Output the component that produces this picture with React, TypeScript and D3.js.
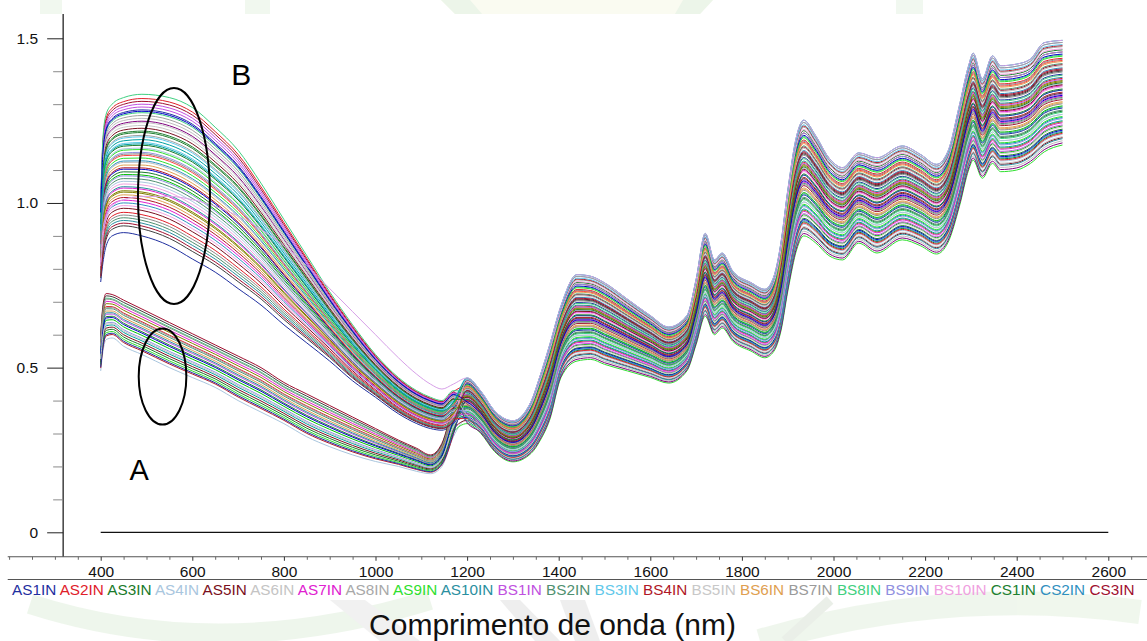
import React, { useEffect, useRef } from "react";
import * as d3 from "d3";

const W = 1147;
const H = 641;
const FONT = "'Liberation Sans', Arial, Helvetica, sans-serif";

// ---- Visible / short-NIR part (nm) : envelopes ----
const VIS_WL = [400, 405, 412, 425, 450, 490, 550, 600, 650, 700, 750, 800, 850, 900, 950, 1000, 1050, 1090, 1120, 1145, 1170];
const B_VIS_UPPER = [1.0, 1.2, 1.27, 1.3, 1.32, 1.33, 1.32, 1.29, 1.23, 1.16, 1.06, 0.95, 0.84, 0.73, 0.63, 0.54, 0.47, 0.43, 0.41, 0.4, 0.43];
const B_VIS_LOWER = [0.76, 0.82, 0.87, 0.9, 0.91, 0.9, 0.87, 0.83, 0.79, 0.74, 0.69, 0.63, 0.575, 0.52, 0.46, 0.41, 0.36, 0.33, 0.315, 0.31, 0.33];
const A_VIS_UPPER = [0.6, 0.69, 0.725, 0.722, 0.705, 0.678, 0.637, 0.603, 0.569, 0.535, 0.5, 0.455, 0.42, 0.385, 0.35, 0.315, 0.28, 0.255, 0.235, 0.27, 0.38];
const A_VIS_LOWER = [0.49, 0.55, 0.585, 0.59, 0.565, 0.54, 0.5, 0.47, 0.44, 0.4, 0.365, 0.33, 0.29, 0.26, 0.235, 0.215, 0.2, 0.185, 0.178, 0.2, 0.29];
const LAVENDER_VIS = [0.82, 0.92, 0.96, 0.99, 1.01, 1.02, 1.02, 1.01, 0.99, 0.96, 0.92, 0.87, 0.81, 0.74, 0.67, 0.6, 0.53, 0.48, 0.45, 0.435, 0.45];

// ---- NIR part (nm) : shared band envelope ----
const NIR_WL = [1200, 1230, 1260, 1300, 1340, 1360, 1380, 1405, 1440, 1470, 1500, 1550, 1600, 1640, 1680, 1700, 1720, 1740, 1757, 1780, 1820, 1850, 1870, 1885, 1900, 1920, 1935, 1960, 1990, 2020, 2055, 2095, 2150, 2190, 2225, 2250, 2275, 2295, 2305, 2325, 2347, 2365, 2400, 2430, 2460, 2500];
const NIR_UPPER = [0.47, 0.43, 0.37, 0.34, 0.4, 0.48, 0.57, 0.69, 0.785, 0.78, 0.76, 0.71, 0.66, 0.625, 0.66, 0.77, 0.91, 0.83, 0.85, 0.795, 0.76, 0.74, 0.78, 0.88, 1.04, 1.21, 1.255, 1.21, 1.14, 1.11, 1.155, 1.14, 1.176, 1.15, 1.12, 1.16, 1.3, 1.42, 1.458, 1.38, 1.45, 1.42, 1.425, 1.44, 1.49, 1.497];
const NIR_LOWER = [0.33, 0.3, 0.245, 0.214, 0.24, 0.28, 0.34, 0.47, 0.52, 0.525, 0.51, 0.49, 0.47, 0.453, 0.49, 0.57, 0.656, 0.6, 0.62, 0.58, 0.55, 0.53, 0.55, 0.61, 0.73, 0.86, 0.9, 0.88, 0.84, 0.827, 0.878, 0.848, 0.888, 0.87, 0.845, 0.88, 0.99, 1.1, 1.13, 1.075, 1.12, 1.095, 1.1, 1.12, 1.155, 1.176];

// ---- per-spectrum level inside its band (0 = lower edge, 1 = upper edge) ----
const B_VIS_POS = [0.0, 0.97, 0.45, 0.62, 0.18, 0.83, 0.33, 0.71, 0.55, 0.09, 0.91, 0.4, 0.66, 0.26, 0.78, 0.5, 0.13, 0.87, 0.59, 0.36, 0.74, 0.22, 0.95, 0.47, 0.68, 0.3, 0.81, 0.05, 0.57, 0.43, 0.89, 0.15, 0.64, 0.38, 0.76, 0.52, 0.24, 0.85, 0.61, 0.34, 0.93, 0.11, 0.7, 0.48, 0.8, 0.28, 0.58, 1.0, 0.42, 0.2, 0.73, 0.53, 0.07, 0.88, 0.65, 0.31];
const B_NIR_POS = [0.35, 0.82, 0.12, 0.58, 0.71, 0.04, 0.46, 0.93, 0.27, 0.64, 0.19, 0.77, 0.52, 0.88, 0.08, 0.4, 0.69, 0.31, 0.97, 0.55, 0.15, 0.73, 0.43, 0.86, 0.23, 0.61, 0.02, 0.49, 0.8, 0.37, 0.67, 0.11, 0.9, 0.29, 0.57, 0.75, 0.21, 0.44, 0.84, 0.06, 0.62, 0.33, 0.95, 0.5, 0.17, 0.79, 0.39, 0.66, 0.25, 0.91, 0.53, 0.13, 0.72, 0.47, 0.99, 0.6];
const A_VIS_POS = [0.0, 0.55, 0.9, 0.3, 0.72, 0.15, 0.62, 1.0, 0.42, 0.83, 0.08, 0.5, 0.95, 0.25, 0.67, 0.36, 0.78, 0.2, 0.58, 0.88, 0.47, 0.11, 0.7, 0.33];
const A_NIR_POS = [0.1, 0.48, 0.85, 0.26, 0.63, 0.0, 0.41, 0.76, 0.18, 0.56, 0.94, 0.32, 0.7, 0.07, 0.45, 0.88, 0.22, 0.59, 0.36, 0.81, 0.14, 0.52, 0.97, 0.29];
const LAVENDER_NIR_POS = 0.99;

const PALETTE = ["#1f2f9f", "#e0202a", "#1a7a2a", "#a9c6de", "#7a1020", "#bdbdbd", "#e020d0", "#a0a0a0", "#2fe02f", "#2a8fa0", "#c050e0", "#4f9070", "#5fc8ea", "#b01828", "#c8c8c8", "#e0a050", "#8c8c8c", "#3fd080", "#9090e0", "#f0a0e0", "#208030", "#3090c0", "#a01030", "#0000c8", "#00a0a0", "#808000", "#800080", "#404040", "#ff4040", "#00c000"];

// ---- axes / annotations ----
const X_TICKS = [400, 600, 800, 1000, 1200, 1400, 1600, 1800, 2000, 2200, 2400, 2600];
const Y_TICKS = [0, 0.5, 1.0, 1.5];
const Y_MINOR = [0.1, 0.2, 0.3, 0.4, 0.6, 0.7, 0.8, 0.9, 1.1, 1.2, 1.3, 1.4];
const ZERO_LINE: [number, number][] = [[400, 0], [2600, 0]];
const FRAME = { yAxisNm: 318, xAxisValue: -0.0743, yTop: 1.574, xLeftNm: 197, xRightNm: 2700 };
const ANNOTATIONS = [
  { label: "B", cx: 560, cy: 1.021, rx: 78.6, ry: 0.328, lx: 707, ly: 1.358, size: 30 },
  { label: "A", cx: 535, cy: 0.473, rx: 52, ry: 0.146, lx: 484, ly: 0.159, size: 29 },
];
const TITLE = "Comprimento de onda (nm)";

const LEGEND_NAMES = ["AS1IN", "AS2IN", "AS3IN", "AS4IN", "AS5IN", "AS6IN", "AS7IN", "AS8IN", "AS9IN", "AS10IN", "BS1IN", "BS2IN", "BS3IN", "BS4IN", "BS5IN", "BS6IN", "BS7IN", "BS8IN", "BS9IN", "BS10IN", "CS1IN", "CS2IN", "CS3IN"];
const LEGEND_COLORS = ["#1f2f9f", "#e0202a", "#1a7a2a", "#a9c6de", "#7a1020", "#c4c4c4", "#e020d0", "#a8a8a8", "#2fe02f", "#2a8fa0", "#c050e0", "#4f9070", "#5fc8ea", "#b01828", "#c8c8c8", "#e0a050", "#9a9a9a", "#3fd080", "#9090e0", "#f0a0e0", "#208030", "#3090c0", "#a01030"];

export default function App() {
  const ref = useRef<SVGSVGElement>(null);

  useEffect(() => {
    const svg = d3.select(ref.current!);
    svg.selectAll("*").remove();
    svg.append("rect").attr("width", W).attr("height", H).attr("fill", "#fff");

    // faint watermark remains outside the plot
    const wm = svg.append("g").attr("opacity", 0.35);
    wm.append("rect").attr("x", 40).attr("y", 0).attr("width", 22).attr("height", 14).attr("fill", "#d8ecd4");
    wm.append("rect").attr("x", 245).attr("y", 0).attr("width", 25).attr("height", 14).attr("fill", "#d8ecd4");
    wm.append("polygon").attr("points", "441,0 713,0 700,14 455,14").attr("fill", "#f1f4d8");
    wm.append("polygon").attr("points", "441,0 470,0 482,14 455,14").attr("fill", "#c9e4c2");
    wm.append("polygon").attr("points", "683,0 713,0 700,14 675,14").attr("fill", "#c9e4c2");
    wm.append("rect").attr("x", 896).attr("y", 0).attr("width", 27).attr("height", 14).attr("fill", "#d8ecd4");
    wm.append("path").attr("d", "M 30 604 Q 220 665 430 600").attr("fill", "none").attr("stroke", "#cfe6c9").attr("stroke-width", 20);
    wm.append("polygon").attr("points", "330,600 365,600 420,641 380,641").attr("fill", "#d9d9d9");
    wm.append("polygon").attr("points", "500,600 520,600 560,641 535,641").attr("fill", "#d0d0d0");
    wm.append("polygon").attr("points", "560,600 585,600 600,641 575,641").attr("fill", "#d0d0d0");
    wm.append("path").attr("d", "M 760 641 Q 950 585 1140 612").attr("fill", "none").attr("stroke", "#d3e8cc").attr("stroke-width", 24);
    wm.append("path").attr("d", "M 785 641 L 830 600").attr("stroke", "#c6d4c0").attr("stroke-width", 10);

    const x = d3.scaleLinear().domain([400, 2600]).range([100.7, 1108.3]);
    const y = d3.scaleLinear().domain([0, 1.5]).range([532.3, 38.3]);
    const line = d3
      .line<[number, number]>()
      .x((d) => x(d[0]))
      .y((d) => y(d[1]))
      .curve(d3.curveMonotoneX);

    const build = (lo: number[], hi: number[], pv: number, pn: number): [number, number][] => [
      ...VIS_WL.map((w, i) => [w, lo[i] + pv * (hi[i] - lo[i])] as [number, number]),
      ...NIR_WL.map((w, i) => [w, NIR_LOWER[i] + pn * (NIR_UPPER[i] - NIR_LOWER[i])] as [number, number]),
    ];

    const series: { pts: [number, number][]; color: string }[] = [];
    const nB = Math.min(B_VIS_POS.length, B_NIR_POS.length);
    const nA = Math.min(A_VIS_POS.length, A_NIR_POS.length);
    const maxN = Math.max(nA, nB);
    for (let i = 0; i < maxN; i++) {
      if (i < nB) series.push({ pts: build(B_VIS_LOWER, B_VIS_UPPER, B_VIS_POS[i], B_NIR_POS[i]), color: PALETTE[i % PALETTE.length] });
      if (i < nA) series.push({ pts: build(A_VIS_LOWER, A_VIS_UPPER, A_VIS_POS[i], A_NIR_POS[i]), color: PALETTE[(i * 7 + 3) % PALETTE.length] });
    }
    series.push({
      pts: [
        ...VIS_WL.map((w, i) => [w, LAVENDER_VIS[i]] as [number, number]),
        ...NIR_WL.map((w, i) => [w, NIR_LOWER[i] + LAVENDER_NIR_POS * (NIR_UPPER[i] - NIR_LOWER[i])] as [number, number]),
      ],
      color: "#d7a0e8",
    });

    const plot = svg.append("g");
    plot
      .selectAll("path.spec")
      .data(series)
      .join("path")
      .attr("class", "spec")
      .attr("d", (s) => line(s.pts))
      .attr("fill", "none")
      .attr("stroke", (s) => s.color)
      .attr("stroke-width", 1);

    plot.append("path").attr("d", line(ZERO_LINE)).attr("fill", "none").attr("stroke", "#111").attr("stroke-width", 1.2);

    // annotations
    ANNOTATIONS.forEach((a) => {
      svg
        .append("ellipse")
        .attr("cx", x(a.cx))
        .attr("cy", y(a.cy))
        .attr("rx", x(a.cx + a.rx) - x(a.cx))
        .attr("ry", y(a.cy - a.ry) - y(a.cy))
        .attr("fill", "none")
        .attr("stroke", "#000")
        .attr("stroke-width", 2);
      svg
        .append("text")
        .attr("x", x(a.lx))
        .attr("y", y(a.ly))
        .attr("text-anchor", "middle")
        .attr("font-family", FONT)
        .attr("font-size", a.size)
        .attr("fill", "#000")
        .text(a.label);
    });

    // Y axis
    const ax = x(FRAME.yAxisNm);
    const xAxisY = y(FRAME.xAxisValue);
    svg.append("line").attr("x1", ax).attr("x2", ax).attr("y1", y(FRAME.yTop)).attr("y2", xAxisY).attr("stroke", "#111").attr("stroke-width", 1.2);
    const gyMinor = svg.append("g").attr("transform", `translate(${ax},0)`);
    gyMinor.call(d3.axisLeft(y).tickValues(Y_MINOR).tickSize(10).tickFormat(() => ""));
    gyMinor.select(".domain").remove();
    gyMinor.selectAll("line").attr("stroke", "#8a8a8a");
    const gy = svg.append("g").attr("transform", `translate(${ax},0)`);
    gy.call(
      d3
        .axisLeft(y)
        .tickValues(Y_TICKS)
        .tickSize(16)
        .tickPadding(9)
        .tickFormat((d) => ((d as number) === 0 ? "0" : d3.format(".1f")(d as number)))
    );
    gy.select(".domain").remove();
    gy.attr("font-family", FONT).attr("font-size", 15.5);
    gy.selectAll("line").attr("stroke", "#222");
    gy.selectAll("text").attr("fill", "#111");

    // X axis
    svg.append("line").attr("x1", x(FRAME.xLeftNm)).attr("x2", x(FRAME.xRightNm)).attr("y1", xAxisY).attr("y2", xAxisY).attr("stroke", "#555").attr("stroke-width", 1.2);
    const minorX = d3.range(200, 2651, 50).filter((v) => !X_TICKS.includes(v));
    const gxMinor = svg.append("g").attr("transform", `translate(0,${xAxisY})`);
    gxMinor.call(d3.axisBottom(x).tickValues(minorX).tickSize(3).tickFormat(() => ""));
    gxMinor.select(".domain").remove();
    gxMinor.selectAll("line").attr("stroke", "#666");
    const gx = svg.append("g").attr("transform", `translate(0,${xAxisY})`);
    gx.call(d3.axisBottom(x).tickValues(X_TICKS).tickSize(4).tickPadding(5).tickFormat((d) => String(d)));
    gx.select(".domain").remove();
    gx.attr("font-family", FONT).attr("font-size", 15.5);
    gx.selectAll("line").attr("stroke", "#333");
    gx.selectAll("text").attr("fill", "#111");

    // legend strip
    svg.append("line").attr("x1", x(FRAME.xLeftNm)).attr("x2", W).attr("y1", 579.5).attr("y2", 579.5).attr("stroke", "#555").attr("stroke-width", 1.2);
    const leg = svg
      .append("text")
      .attr("x", 12)
      .attr("y", 595)
      .attr("font-family", FONT)
      .attr("font-size", 15.3)
      .style("white-space", "pre");
    LEGEND_NAMES.forEach((n, i) => {
      leg
        .append("tspan")
        .attr("fill", LEGEND_COLORS[i])
        .text(i < LEGEND_NAMES.length - 1 ? n + " " : n);
    });

    // axis title
    svg
      .append("text")
      .attr("x", 552.5)
      .attr("y", 635)
      .attr("text-anchor", "middle")
      .attr("font-family", FONT)
      .attr("font-size", 30)
      .attr("fill", "#111")
      .text(TITLE);
  }, []);

  return (
    <svg
      ref={ref}
      width={W}
      height={H}
      style={{ position: "absolute", left: 0, top: 0, display: "block" }}
    />
  );
}
